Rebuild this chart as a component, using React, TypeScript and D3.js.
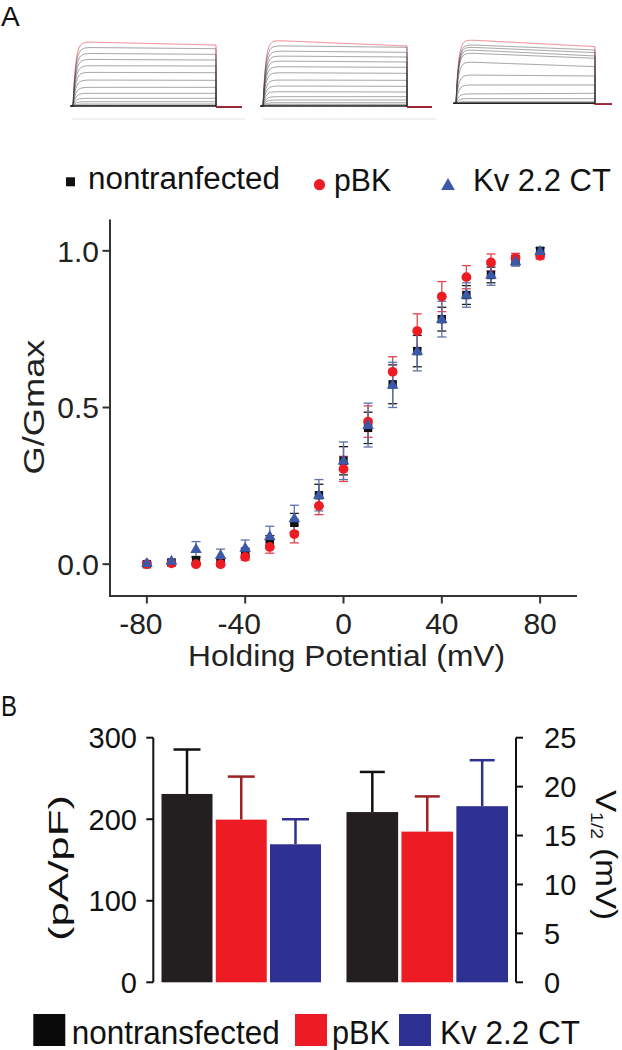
import React from 'react';
import * as d3 from 'd3';

// ---------- data ----------
const voltages = [-80, -70, -60, -50, -40, -30, -20, -10, 0, 10, 20, 30, 40, 50, 60, 70, 80];
const nonMean = [0.0, 0.005, 0.013, 0.006, 0.036, 0.071, 0.132, 0.22, 0.33, 0.435, 0.574, 0.68, 0.782, 0.859, 0.923, 0.97, 1.0];
const nonErr = [0.005, 0.005, 0.01, 0.01, 0.015, 0.02, 0.03, 0.035, 0.045, 0.05, 0.062, 0.05, 0.038, 0.03, 0.025, 0.015, 0.01];
const pbkMean = [0.0, 0.003, 0.0, 0.0, 0.023, 0.055, 0.096, 0.186, 0.304, 0.455, 0.614, 0.744, 0.854, 0.916, 0.963, 0.977, 0.984];
const pbkErr = [0.005, 0.005, 0.005, 0.005, 0.01, 0.02, 0.028, 0.028, 0.04, 0.05, 0.048, 0.055, 0.048, 0.037, 0.027, 0.015, 0.01];
const kvMean = [0.003, 0.01, 0.048, 0.029, 0.052, 0.089, 0.146, 0.22, 0.33, 0.444, 0.572, 0.68, 0.782, 0.859, 0.923, 0.966, 0.999];
const kvErr = [0.005, 0.006, 0.024, 0.019, 0.025, 0.032, 0.042, 0.05, 0.06, 0.07, 0.072, 0.063, 0.057, 0.039, 0.033, 0.015, 0.01];

const xTicks = [-80, -40, 0, 40, 80];
const yTicks = [0, 0.5, 1.0];

const groups = ['nontransfected', 'pBK', 'Kv 2.2 CT'];
const densityMean = [231, 199.5, 169.3];
const densityErr = [54.5, 52.8, 30.7];
const v12Mean = [17.4, 15.4, 18.0];
const v12Err = [4.1, 3.6, 4.7];
const densityTicks = [0, 100, 200, 300];
const v12Ticks = [0, 5, 10, 15, 20, 25];

// current traces (heights above baseline, arbitrary units): start of step, end of step
const trace1Start = [193, 176, 158, 140, 121, 101, 78, 56, 38, 23, 13, 6, 2, 1];
const trace1End = [183, 172, 155, 138, 120, 100, 77, 56, 38, 23, 13, 6, 2, 1];
const trace2Start = [198, 181, 165, 150, 135, 118, 100, 78, 60, 43, 28, 18, 10, 5, 2];
const trace2End = [180, 176, 161, 147, 132, 116, 98, 77, 59, 42, 28, 18, 10, 5, 2];
const trace3Start = [192, 177, 170, 162, 152, 125, 85, 55, 28, 14, 5, 2];
const trace3End = [170, 160, 152, 142, 135, 110, 82, 55, 30, 14, 5, 2];

// ---------- colours ----------
const BLACK = '#111111';
const RED = '#ed1c24';
const BLUE = '#3c58a8';
const BAR_BLACK = '#231f20';
const BAR_RED = '#ed1c24';
const BAR_BLUE = '#2e3192';
const FONT = "'Liberation Sans', Arial, Helvetica, sans-serif";

function TracePanel({ starts, ends, x0, x1, x2, base, top }: any) {
  const maxV = d3.max(starts) as number;
  const xs = d3.scaleLinear().domain([0, 1]).range([x0, x1]);
  const ys = d3.scaleLinear().domain([0, maxV]).range([base, top]);
  const ts = d3.range(0, 1.0001, 0.005);
  const line = d3.line<[number, number]>().x((d) => d[0]).y((d) => d[1]);
  const paths = starts.map((s: number, i: number) => {
    const e = ends[i];
    const pts: [number, number][] = [[x0 - 2, base]];
    ts.forEach((t) => {
      const v = (s + (e - s) * t) * (1 - Math.exp(-t / 0.018));
      pts.push([xs(t), ys(v)]);
    });
    pts.push([x1, base + 1]);
    pts.push([x2, base + 1]);
    return line(pts) as string;
  });
  return (
    <g>
      {paths.map((p: string, i: number) => (
        <path key={i} d={p} fill="none" stroke={i === 0 ? '#f07080' : '#444'} strokeWidth={i === 0 ? 0.9 : 0.6} opacity={i === 0 ? 1 : 0.85} />
      ))}
      <line x1={x0 - 3} x2={x1} y1={base} y2={base} stroke="#222" strokeWidth={1.6} />
      <line x1={x1} x2={x2} y1={base + 0.8} y2={base + 0.8} stroke="#b02030" strokeWidth={1.6} />
    </g>
  );
}

export default function App() {
  // scatter scales
  const xS = d3.scaleLinear().domain([-95, 95]).range([110, 577]);
  const yS = d3.scaleLinear().domain([-0.1, 1.1]).range([595.5, 219.5]);

  const series = [
    { mean: nonMean, err: nonErr, errColor: '#1a1a1a' },
    { mean: pbkMean, err: pbkErr, errColor: '#e4444c' },
    { mean: kvMean, err: kvErr, errColor: '#5d72aa' },
  ];

  const triSmall = d3.symbol().type(d3.symbolTriangle).size(58)() as string;
  const triLegend = d3.symbol().type(d3.symbolTriangle).size(82)() as string;

  // bar scales
  const yD = d3.scaleLinear().domain([0, 300]).range([982.3, 737.7]);
  const yV = d3.scaleLinear().domain([0, 25]).range([982.3, 737.7]);
  const bandL = d3.scaleBand().domain(groups).range([161.5, 321]).paddingInner(0.06);
  const bandR = d3.scaleBand().domain(groups).range([346.5, 508]).paddingInner(0.06);
  const barFill = [BAR_BLACK, BAR_RED, BAR_BLUE];
  const barErrColor = ['#111111', '#9e1f24', '#2e3192'];

  const capW = 9;

  return (
    <svg width={622} height={1050} style={{ position: 'absolute', left: 0, top: 0, display: 'block', background: '#fff' }} fontFamily={FONT}>
      <rect x={0} y={0} width={622} height={1050} fill="#fff" />
      {/* panel labels */}
      <text x={1} y={26} fontSize={28} fill="#111">A</text>
      <text x={1} y={716} fontSize={29} fill="#111" textLength={16} lengthAdjust="spacingAndGlyphs">B</text>

      {/* current traces */}
      <TracePanel starts={trace1Start} ends={trace1End} x0={73} x1={216} x2={242} base={106} top={41.7} />
      <TracePanel starts={trace2Start} ends={trace2End} x0={263} x1={407} x2={432} base={106} top={40} />
      <TracePanel starts={trace3Start} ends={trace3End} x0={456} x1={595} x2={612} base={103.3} top={39.3} />
      <line x1={72} x2={245} y1={119} y2={119} stroke="#e4e4e4" strokeWidth={1} />
      <line x1={263} x2={436} y1={119} y2={119} stroke="#e4e4e4" strokeWidth={1} />

      {/* top legend */}
      <rect x={66} y={177.3} width={9} height={9} fill={BLACK} />
      <text x={88} y={188.5} fontSize={31} fill="#111" textLength={192} lengthAdjust="spacingAndGlyphs">nontranfected</text>
      <circle cx={319.5} cy={184.7} r={5.6} fill={RED} />
      <text x={334} y={191} fontSize={31} fill="#111" textLength={57} lengthAdjust="spacingAndGlyphs">pBK</text>
      <path d={triLegend} transform="translate(448,186)" fill={BLUE} />
      <text x={473} y={191} fontSize={31} fill="#111">Kv 2.2 CT</text>

      {/* scatter axes */}
      <line x1={110} x2={110} y1={yS(1.1)} y2={596.5} stroke="#333" strokeWidth={2} />
      <line x1={109} x2={577} y1={596} y2={596} stroke="#333" strokeWidth={2} />
      {yTicks.map((t) => (
        <g key={t}>
          <line x1={102.5} x2={110} y1={yS(t)} y2={yS(t)} stroke="#333" strokeWidth={2} />
          <text x={99} y={yS(t)} dy="0.36em" textAnchor="end" fontSize={30} fill="#222">{t.toFixed(1)}</text>
        </g>
      ))}
      {xTicks.map((t) => (
        <g key={t}>
          <line x1={xS(t)} x2={xS(t)} y1={596} y2={603.5} stroke="#333" strokeWidth={2} />
          <text x={xS(t) + (t < 0 ? -6 : 0)} y={633.5} textAnchor="middle" fontSize={30} fill="#222">{t}</text>
        </g>
      ))}
      <text x={346.5} y={666} textAnchor="middle" fontSize={30} fill="#222" textLength={317} lengthAdjust="spacingAndGlyphs">Holding Potential (mV)</text>
      <text transform={`translate(44,407) rotate(-90)`} textAnchor="middle" fontSize={30} fill="#222" textLength={135} lengthAdjust="spacingAndGlyphs">G/Gmax</text>

      {/* error bars */}
      {series.map((s, si) => (
        <g key={si} stroke={s.errColor} strokeWidth={1.3}>
          {voltages.map((v, i) => {
            const x = xS(v);
            const y1 = yS(s.mean[i] - s.err[i]);
            const y2 = yS(s.mean[i] + s.err[i]);
            return (
              <g key={i}>
                <line x1={x} x2={x} y1={y1} y2={y2} />
                <line x1={x - capW / 2} x2={x + capW / 2} y1={y1} y2={y1} />
                <line x1={x - capW / 2} x2={x + capW / 2} y1={y2} y2={y2} />
              </g>
            );
          })}
        </g>
      ))}
      {/* markers */}
      {voltages.map((v, i) => (
        <rect key={'s' + i} x={xS(v) - 4.2} y={yS(nonMean[i]) - 4.2} width={8.4} height={8.4} fill={BLACK} />
      ))}
      {voltages.map((v, i) => (
        <circle key={'c' + i} cx={xS(v)} cy={yS(pbkMean[i])} r={4.9} fill={RED} />
      ))}
      {voltages.map((v, i) => (
        <path key={'t' + i} d={triSmall} transform={`translate(${xS(v)},${yS(kvMean[i]) + 0.5})`} fill={BLUE} />
      ))}

      {/* bar chart B */}
      <line x1={153.3} x2={153.3} y1={yD(300)} y2={yD(0)} stroke="#111" strokeWidth={2} />
      {densityTicks.map((t) => (
        <g key={t}>
          <line x1={146.3} x2={153.3} y1={yD(t)} y2={yD(t)} stroke="#111" strokeWidth={2} />
          <text x={137} y={yD(t)} dy="0.36em" textAnchor="end" fontSize={29} fill="#111">{t}</text>
        </g>
      ))}
      <text transform={`translate(58,868) rotate(-90)`} textAnchor="middle" dy="0.34em" fontSize={28} fill="#111" textLength={146} lengthAdjust="spacingAndGlyphs">(pA/pF)</text>

      <line x1={516} x2={516} y1={yV(25)} y2={yV(0)} stroke="#111" strokeWidth={2} />
      {v12Ticks.map((t) => (
        <g key={t}>
          <line x1={516} x2={523} y1={yV(t)} y2={yV(t)} stroke="#111" strokeWidth={2} />
          <text x={544} y={yV(t)} dy="0.36em" textAnchor="start" fontSize={29} fill="#111">{t}</text>
        </g>
      ))}
      <text transform={`translate(596,855) rotate(90)`} textAnchor="middle" fontSize={29} fill="#111" textLength={130} lengthAdjust="spacingAndGlyphs">
        <tspan>V</tspan>
        <tspan fontSize={17} dy={5}>1/2</tspan>
        <tspan dy={-5}> (mV)</tspan>
      </text>

      {groups.map((g, i) => {
        const x = bandL(g) as number;
        const w = bandL.bandwidth();
        const cx = x + w / 2;
        return (
          <g key={'dl' + i}>
            <line x1={cx} x2={cx} y1={yD(densityMean[i])} y2={yD(densityMean[i] + densityErr[i])} stroke={barErrColor[i]} strokeWidth={2.5} />
            <line x1={cx - 13.5} x2={cx + 13.5} y1={yD(densityMean[i] + densityErr[i])} y2={yD(densityMean[i] + densityErr[i])} stroke={barErrColor[i]} strokeWidth={2.5} />
            <rect x={x} y={yD(densityMean[i])} width={w} height={yD(0) - yD(densityMean[i])} fill={barFill[i]} />
          </g>
        );
      })}
      {groups.map((g, i) => {
        const x = bandR(g) as number;
        const w = bandR.bandwidth();
        const cx = x + w / 2;
        return (
          <g key={'vr' + i}>
            <line x1={cx} x2={cx} y1={yV(v12Mean[i])} y2={yV(v12Mean[i] + v12Err[i])} stroke={barErrColor[i]} strokeWidth={2.5} />
            <line x1={cx - 12.5} x2={cx + 12.5} y1={yV(v12Mean[i] + v12Err[i])} y2={yV(v12Mean[i] + v12Err[i])} stroke={barErrColor[i]} strokeWidth={2.5} />
            <rect x={x} y={yV(v12Mean[i])} width={w} height={yV(0) - yV(v12Mean[i])} fill={barFill[i]} />
          </g>
        );
      })}

      {/* bottom legend */}
      <rect x={33.3} y={1014} width={32} height={32} fill="#0a0a0a" />
      <text x={71.7} y={1043.5} fontSize={34} fill="#111" textLength={208} lengthAdjust="spacingAndGlyphs">nontransfected</text>
      <rect x={295} y={1014} width={32} height={32} fill={BAR_RED} />
      <text x={332} y={1043.5} fontSize={34} fill="#111" textLength={58} lengthAdjust="spacingAndGlyphs">pBK</text>
      <rect x={399} y={1014} width={32} height={32} fill={BAR_BLUE} />
      <text x={440} y={1043.5} fontSize={34} fill="#111" textLength={140} lengthAdjust="spacingAndGlyphs">Kv 2.2 CT</text>
    </svg>
  );
}
